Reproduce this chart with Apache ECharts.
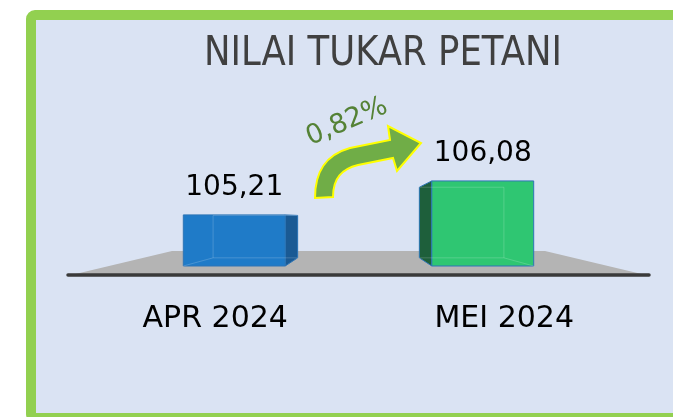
<!DOCTYPE html>
<html>
<head>
<meta charset="utf-8">
<script src="https://cdn.jsdelivr.net/npm/echarts@6/dist/echarts.min.js"></script>
<style>
html, body { margin: 0; padding: 0; background: #fff; }
#main { width: 673px; height: 417px; }
</style>
</head>
<body>
<div id="main"></div>
<script>
var titleText = 'NILAI TUKAR PETANI';
var categories = ['APR 2024', 'MEI 2024'];
var values = [105.21, 106.08];
var changeLabel = '0,82%';
var yMin = 103.9;
var yMax = 108;

var K = 0.83; // depth of the box (back face scale toward the vanishing point)
var faceColors = [['#1f7bc8', '#1a5a94'], ['#2fc672', '#1e5f3b']];

function fmt(v) {
    return v.toFixed(2).replace('.', ',');
}

function renderBox(params, api) {
    var i = params.dataIndex;
    var top = api.coord([api.value(0), api.value(1)]);
    var base = api.coord([api.value(0), yMin]);
    var w = api.size([1, 0])[0] * 0.41;
    var cs = params.coordSys;
    var vx = cs.x + cs.width / 2, vy = base[1] - 48;
    var x0 = top[0] - w / 2, x1 = top[0] + w / 2, yT = top[1], yB = base[1];
    function bk(x, y) { return [vx + K * (x - vx), vy + K * (y - vy)]; }
    var fTL = [x0, yT], fTR = [x1, yT], fBR = [x1, yB], fBL = [x0, yB];
    var bTL = bk(x0, yT), bTR = bk(x1, yT), bBR = bk(x1, yB), bBL = bk(x0, yB);
    var c = faceColors[i];
    var right = top[0] < vx; // side face shows on the outer side
    var side = right ? [fTR, bTR, bBR, fBR] : [fTL, bTL, bBL, fBL];
    var inTop = right ? bTL : bTR, inBot = right ? bBL : bBR;
    var otherBot = right ? bBR : bBL, frontNear = right ? fBL : fBR;
    var edge = '#2e75b6';
    var inner = 'rgba(255,255,255,0.18)';
    return {
        type: 'group',
        children: [
            {type: 'polygon', shape: {points: [bTL, bTR, bBR, bBL]}, style: {fill: c[0]}},
            {type: 'polygon', shape: {points: side}, style: {fill: c[1], stroke: edge, lineWidth: 1}},
            {type: 'rect', shape: {x: x0, y: yT, width: w, height: yB - yT}, style: {fill: c[0], stroke: edge, lineWidth: 1}},
            {type: 'polyline', shape: {points: [bTL, bTR]}, style: {stroke: inner, lineWidth: 1, fill: null}},
            {type: 'polyline', shape: {points: [inTop, inBot, otherBot]}, style: {stroke: inner, lineWidth: 1, fill: null}},
            {type: 'polyline', shape: {points: [frontNear, inBot]}, style: {stroke: inner, lineWidth: 1, fill: null}},
            {type: 'text', style: {text: fmt(api.value(1)), x: top[0], y: yT - 27, align: 'center', verticalAlign: 'middle',
                fontSize: 28, fontFamily: 'DejaVu Sans', fill: '#000'}}
        ]
    };
}

// curved "increase" arrow with the change label
function renderArrow(params, api) {
    return {
        type: 'group',
        children: [
            {type: 'path',
                shape: {pathData: 'M315 198 C315 172 325 155 350 148 L390 140 L388 126 L421 143 L397 171 L393 158 L358 165 C342 169 333 178 333 197 Z'},
                style: {fill: '#70ad47', stroke: '#ffff00', lineWidth: 2}},
            {type: 'text', x: 347, y: 122, rotation: 0.4,
                style: {text: changeLabel, fontSize: 27, fontFamily: 'DejaVu Sans', fill: '#548235', align: 'center', verticalAlign: 'middle'}}
        ]
    };
}

var dom = document.getElementById('main');
var myChart = echarts.init(dom);
var option = {
    animation: false,
    backgroundColor: '#fff',
    grid: {left: 110, right: 66, top: 106, bottom: 151},
    xAxis: {
        type: 'category',
        data: categories,
        axisLine: {show: false},
        axisTick: {show: false},
        axisLabel: {
            interval: 0,
            hideOverlap: false,
            margin: 38,
            color: '#000',
            fontSize: 30,
            fontFamily: 'DejaVu Sans',
            formatter: function (v, idx) { return '{c' + idx + '|' + v + '}'; },
            rich: {
                c0: {fontSize: 30, fontFamily: 'DejaVu Sans', color: '#000', padding: [0, 38, 0, 0]},
                c1: {fontSize: 30, fontFamily: 'DejaVu Sans', color: '#000', padding: [0, 0, 0, 43]}
            }
        }
    },
    yAxis: {type: 'value', min: yMin, max: yMax, show: false},
    graphic: [
        {type: 'rect', z: 0, shape: {x: 31, y: 15, width: 700, height: 403, r: 4},
            style: {fill: '#dae3f3', stroke: '#92d050', lineWidth: 10}},
        {type: 'text', z: 1, x: 383, y: 54, scaleX: 0.865,
            style: {text: titleText, fontSize: 41, fontFamily: 'DejaVu Sans', fill: '#404040', align: 'center', verticalAlign: 'middle'}},
        {type: 'polygon', z: 1, shape: {points: [[67, 276], [172, 251], [545, 251], [650, 276]]},
            style: {fill: '#b4b4b4'}},
        {type: 'line', z: 1, shape: {x1: 68, y1: 275, x2: 649, y2: 275},
            style: {stroke: '#3a3a3a', lineWidth: 3.5, lineCap: 'round'}}
    ],
    series: [{
        type: 'custom',
        z: 5,
        renderItem: renderBox,
        data: values.map(function (v, i) { return [i, v]; })
    }, {
        type: 'custom',
        coordinateSystem: 'none',
        z: 10,
        silent: true,
        renderItem: renderArrow,
        data: [[0]]
    }]
};
myChart.setOption(option, true);
window.onresize = myChart.resize;
</script>
</body>
</html>
